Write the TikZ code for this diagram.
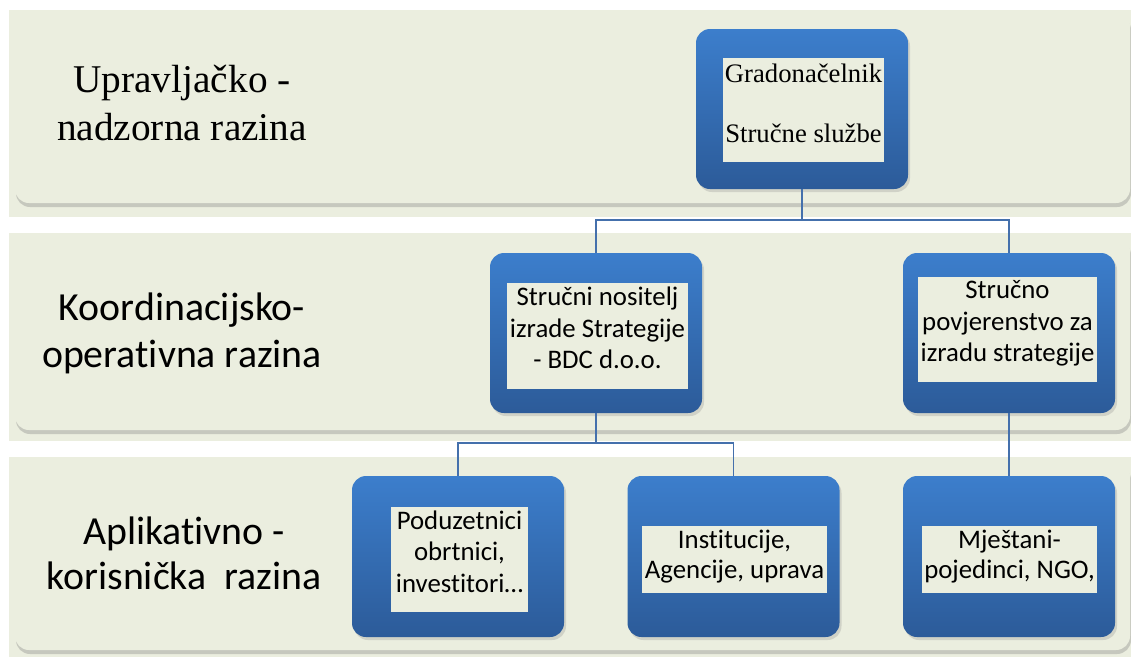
\documentclass[tikz,border=0pt]{standalone}
\usepackage{fontspec}
\setmainfont{Liberation Serif}
\newfontfamily\carl[Ligatures=NoCommon]{Carlito}
\usetikzlibrary{shadows}
\definecolor{bandc}{RGB}{235,238,223}
\definecolor{bluetop}{RGB}{60,126,204}
\definecolor{bluebot}{RGB}{44,91,153}
\definecolor{linec}{RGB}{68,112,172}
\begin{document}
\begin{tikzpicture}[x=1pt,y=-1pt,
  bandbg/.style={fill=bandc},
  band/.style={fill=bandc, rounded corners=14pt,
    drop shadow={shadow xshift=1pt, shadow yshift=-4pt, opacity=0.3, fill=black!55}},
  bluebox/.style={rectangle, rounded corners=14pt, minimum width=212pt, minimum height=160pt,
    top color=bluetop, bottom color=bluebot, draw=none, inner sep=0pt,
    drop shadow={shadow xshift=2pt, shadow yshift=-3pt, opacity=0.25, fill=black!50}},
  textrect/.style={rectangle, fill=bandc, inner sep=0pt},
  boxtext/.style={align=center, inner sep=0pt, font=\carl\fontsize{26.8}{31.5}\selectfont},
  leveltext/.style={align=center, inner sep=0pt},
  conn/.style={draw=linec, line width=1.6pt}
]
\useasboundingbox (0,0) rectangle (1131,657);
\fill[white] (0,0) rectangle (1131,657);

% bands
\fill[bandbg] (9,10) rectangle (1131,217);
\fill[bandbg] (9,233) rectangle (1131,441);
\fill[bandbg] (9,457) rectangle (1131,657);
\path[band] (15,12) rectangle (1130,203);
\path[band] (15,237) rectangle (1130,430);
\path[band] (15,462) rectangle (1130,650);

% level labels
\node[leveltext, font=\fontsize{39.3}{48}\selectfont] (l1) at (182,102.7) {Upravljačko -\\nadzorna razina};
\node[leveltext, font=\carl\fontsize{39.8}{47}\selectfont] (l2) at (182,333) {Koordinacijsko-\\operativna razina};
\node[leveltext, font=\carl\fontsize{39.8}{45}\selectfont] (l3) at (184,553) {Aplikativno -\\korisnička~ razina};

% blue boxes
\node[bluebox] (gr) at (802,109) {};
\node[bluebox] (nos) at (596,333) {};
\node[bluebox] (pov) at (1009,333) {};
\node[bluebox, minimum height=161pt] (pod) at (458,556.5) {};
\node[bluebox, minimum height=161pt] (ins) at (733.5,556.5) {};
\node[bluebox, minimum height=161pt] (mje) at (1009,556.5) {};

% connectors
\draw[conn] (gr.south) -- ++(0,31) -| (nos.north);
\draw[conn] (gr.south) -- ++(0,31) -| (pov.north);
\draw[conn] (nos.south) -- ++(0,30) -| (pod.north);
\draw[conn] (nos.south) -- ++(0,30) -| (ins.north);
\draw[conn] (pov.south) -- (mje.north);

% inner text rectangles
\node[textrect, minimum width=161pt, minimum height=104pt] (grR) at (803.5,110) {};
\node[textrect, minimum width=181pt, minimum height=106pt] (nosR) at (597.5,336) {};
\node[textrect, minimum width=179pt, minimum height=105pt] (povR) at (1007.5,329.5) {};
\node[textrect, minimum width=137pt, minimum height=105pt] (podR) at (459.5,559.5) {};
\node[textrect, minimum width=185pt, minimum height=67pt] (insR) at (734.5,559.5) {};
\node[textrect, minimum width=175pt, minimum height=67pt] (mjeR) at (1009.5,559.5) {};

% texts
\node[align=center, inner sep=0pt, font=\fontsize{26.7}{30}\selectfont] (grT) at (803.5,103) {Gradonačelnik\\[30pt]Stručne službe};
\node[boxtext] (nosT) at (597.5,328) {Stručni nositelj\\izrade Strategije\\- BDC d.o.o.};
\node[boxtext] (povT) at (1007.5,323.5) {Stručno\\povjerenstvo za\\izradu strategije};
\node[boxtext] (podT) at (459.5,551.7) {Poduzetnici\\obrtnici,\\investitori…};
\node[boxtext, font=\carl\fontsize{26.8}{30}\selectfont] (insT) at (734.5,557) {Institucije,\\Agencije, uprava};
\node[boxtext, font=\carl\fontsize{26.8}{30}\selectfont] (mjeT) at (1009.5,557) {Mještani-\\pojedinci, NGO,};
\end{tikzpicture}
\end{document}
